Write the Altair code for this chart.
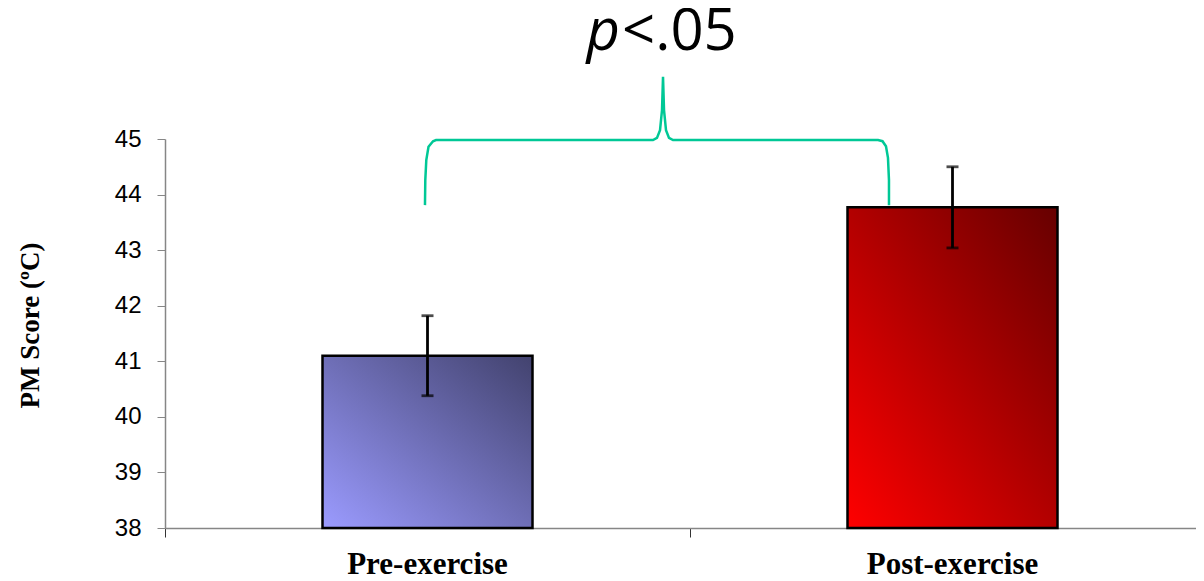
import altair as alt
import pandas as pd

# ---- data ----
categories = ["Pre-exercise", "Post-exercise"]
positions = [0.5, 1.5]          # band centres on a 0..2 axis
means = [41.1, 43.77]
errors = [0.72, 0.73]
y_ticks = [38, 39, 40, 41, 42, 43, 44, 45]

# significance brace (data coordinates)
bracket_x = [0.4952, 0.4958, 0.4977, 0.5019, 0.5105, 0.5162, 0.9295, 0.9371, 0.9429,
             0.9467, 0.9486, 0.9505, 0.9543, 0.9600, 0.9676, 1.3581, 1.3667, 1.3733,
             1.3771, 1.3790, 1.3790]
bracket_y = [43.81, 44.26, 44.62, 44.86, 44.96, 44.98, 44.98, 45.02, 45.16,
             45.52, 46.12, 45.52, 45.16, 45.02, 44.98, 44.98, 44.96, 44.87,
             44.66, 44.26, 43.81]

W, H = 1031, 389

df = pd.DataFrame({"cat": categories, "pos": positions, "mean": means, "err": errors})
br = pd.DataFrame({"x": bracket_x, "y": bracket_y, "i": list(range(len(bracket_x)))})
ptxt = pd.DataFrame({"x": [0.8667], "y": [46.6]})

xs = alt.Scale(domain=[0, 1031 / 525], nice=False, zero=False)
ys = alt.Scale(domain=[38, 45], nice=False, zero=False)

xaxis = alt.Axis(values=[0, 1], labels=False, title=None, grid=False, tickSize=9,
                 domainColor="#868686", tickColor="#333333", domainWidth=1.5)
yaxis = alt.Axis(values=y_ticks, title="PM Score (ºC)", grid=False, tickSize=8,
                 labelFont="Liberation Sans", labelFontSize=24, labelColor="black",
                 labelPadding=16, domainColor="#868686", tickColor="#868686",
                 domainWidth=1.5, titleFont="Liberation Serif", titleFontWeight="bold",
                 titleFontSize=27, titleColor="black", titleAngle=270, titleX=-135,
                 titleY=186, titleAlign="center", titleBaseline="middle")

def X(f):
    return alt.X(f, type="quantitative", scale=xs, axis=xaxis)

def Y(f):
    return alt.Y(f, type="quantitative", scale=ys, axis=yaxis)

base = alt.Chart(df).transform_calculate(
    x0="datum.pos - 0.2", x1="datum.pos + 0.2",
    lo="datum.mean - datum.err", hi="datum.mean + datum.err", base="38"
)

grad_pre = {"gradient": "linear", "x1": 0, "y1": 1, "x2": 1, "y2": 0,
            "stops": [{"offset": 0, "color": "#9B9BFF"}, {"offset": 1, "color": "#42426E"}]}
grad_post = {"gradient": "linear", "x1": 0, "y1": 1, "x2": 1, "y2": 0,
             "stops": [{"offset": 0, "color": "#FF0000"}, {"offset": 1, "color": "#660000"}]}

def bar_layer(cat, grad):
    return base.transform_filter(alt.datum.cat == cat).mark_bar(
        fill=grad, stroke="black", strokeWidth=2.5
    ).encode(x=X("x0"), x2="x1:Q", y=Y("mean"), y2="base:Q")

bars_pre = bar_layer("Pre-exercise", grad_pre)
bars_post = bar_layer("Post-exercise", grad_post)

err = base.mark_rule(color="black", strokeWidth=2.8).encode(
    x=X("pos"), y=Y("lo"), y2="hi:Q")
cap_hi = base.mark_tick(color="black", orient="horizontal", size=12, thickness=2.8).encode(
    x=X("pos"), y=Y("hi"))
cap_lo = base.mark_tick(color="black", orient="horizontal", size=12, thickness=2.8).encode(
    x=X("pos"), y=Y("lo"))

cat_labels = alt.Chart(df).mark_text(
    font="Liberation Serif", fontWeight="bold", fontSize=31, color="black",
    baseline="alphabetic", align="center"
).encode(x=X("pos"), y=alt.value(H + 46), text="cat:N")

brace = alt.Chart(br).mark_line(color="#00C896", strokeWidth=2.5).encode(
    x=X("x"), y=Y("y"), order="i:Q")

p_italic = alt.Chart(ptxt).mark_text(
    text="p", font="Open Sans", fontStyle="italic", fontSize=58, color="black",
    align="right", baseline="alphabetic"
).encode(x=X("x"), y=Y("y"))
p_rest = alt.Chart(ptxt).mark_text(
    text="<.05", font="Open Sans", fontSize=58, color="black",
    align="left", baseline="alphabetic", dx=2
).encode(x=X("x"), y=Y("y"))

chart = alt.layer(
    bars_pre, bars_post, err, cap_hi, cap_lo, cat_labels, brace, p_italic, p_rest
).properties(
    width=W, height=H,
    autosize=alt.AutoSizeParams(type="none"),
    padding={"left": 157, "top": 131, "right": 0, "bottom": 53},
).configure_view(stroke=None)

chart.save("out.html", embed_options={"renderer": "svg", "actions": False})
